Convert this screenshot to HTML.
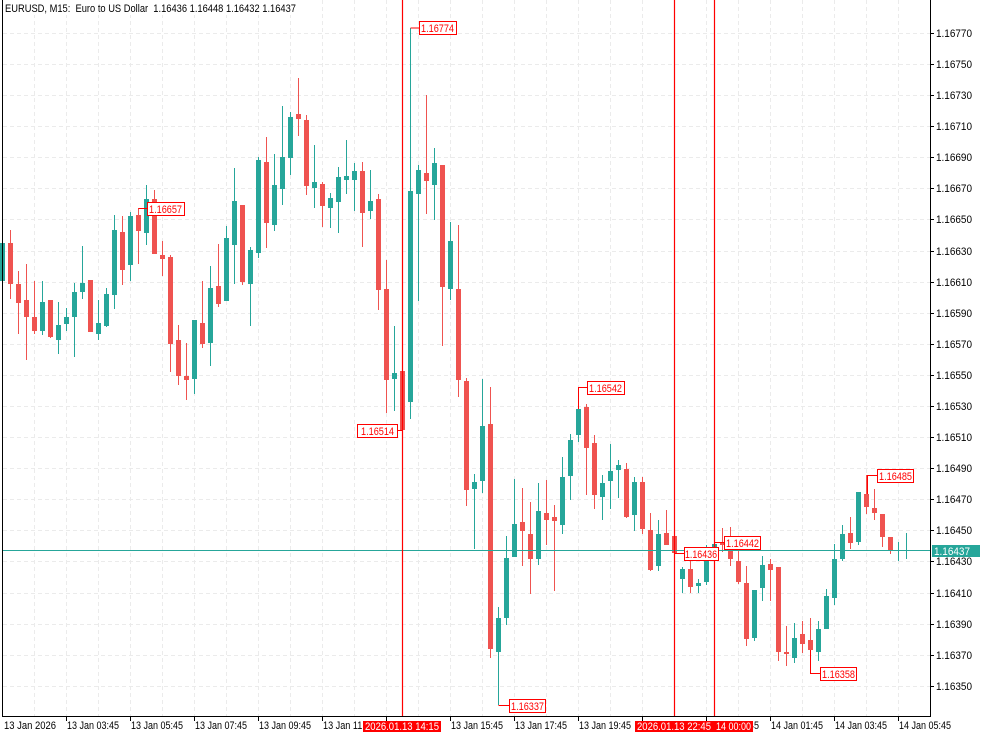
<!DOCTYPE html>
<html><head><meta charset="utf-8"><style>
html,body{margin:0;padding:0;background:#fff;}
#w{position:relative;width:983px;height:737px;overflow:hidden;font-family:"Liberation Sans","DejaVu Sans",sans-serif;font-size:11px;}
svg{position:absolute;left:0;top:0;}
svg text{font-family:"Liberation Sans","DejaVu Sans",sans-serif;font-size:11px;white-space:pre;}
</style></head><body><div id="w">
<svg id="s" width="983" height="737" xmlns="http://www.w3.org/2000/svg">
<g id="grid"></g>
<g id="candles"></g>
<line x1="2" y1="550.5" x2="930" y2="550.5" stroke="#26a69a" stroke-width="1"/>
<g stroke="#ff0000" stroke-width="1.2">
<line x1="402.5" y1="0" x2="402.5" y2="716"/>
<line x1="674.5" y1="0" x2="674.5" y2="716"/>
<line x1="714.5" y1="0" x2="714.5" y2="716"/>
</g>
<line x1="2.5" y1="0" x2="2.5" y2="716" stroke="#000"/>
<line x1="930.5" y1="0" x2="930.5" y2="717" stroke="#000"/>
<line x1="2" y1="716.5" x2="931" y2="716.5" stroke="#000"/>
<g id="ticks"></g>
<g fill="#fff" stroke="#ff0000" stroke-width="1">
<polyline points="410.5,28 419,28" fill="none"/>
<rect x="419.5" y="21.5" width="37" height="13"/>
<polyline points="138.5,208.5 147,208.5" fill="none"/>
<rect x="147.5" y="202.5" width="37" height="13"/>
<polyline points="402,430.5 397,430.5" fill="none"/>
<rect x="357.5" y="424.5" width="40" height="13"/>
<polyline points="578.5,409 578.5,387.5 587,387.5" fill="none"/>
<rect x="587.5" y="381.5" width="37" height="13"/>
<polyline points="498.5,705.5 509,705.5" fill="none"/>
<rect x="509.5" y="699.5" width="36" height="13"/>
<polyline points="674.5,553.5 684,553.5" fill="none"/>
<rect x="684.5" y="547.5" width="34" height="13"/>
<polyline points="714.5,541 714.5,542.5 724,542.5" fill="none"/>
<rect x="724.5" y="536.5" width="36" height="13"/>
<polyline points="867.5,494 867.5,475.5 877,475.5" fill="none"/>
<rect x="877.5" y="469.5" width="36" height="13"/>
<polyline points="810.5,650 810.5,673.5 820,673.5" fill="none"/>
<rect x="820.5" y="667.5" width="36" height="13"/>
</g>
<g fill="#ff0000" lengthAdjust="spacingAndGlyphs">
<text x="421" y="32" textLength="33" lengthAdjust="spacingAndGlyphs">1.16774</text>
<text x="149" y="213" textLength="33" lengthAdjust="spacingAndGlyphs">1.16657</text>
<text x="361" y="435" textLength="33" lengthAdjust="spacingAndGlyphs">1.16514</text>
<text x="589" y="392" textLength="33" lengthAdjust="spacingAndGlyphs">1.16542</text>
<text x="511" y="710" textLength="33" lengthAdjust="spacingAndGlyphs">1.16337</text>
<text x="685" y="558" textLength="32" lengthAdjust="spacingAndGlyphs">1.16436</text>
<text x="726" y="547" textLength="33" lengthAdjust="spacingAndGlyphs">1.16442</text>
<text x="879" y="480" textLength="33" lengthAdjust="spacingAndGlyphs">1.16485</text>
<text x="822" y="678" textLength="33" lengthAdjust="spacingAndGlyphs">1.16358</text>
</g>
<g fill="#000" id="ax"></g>
<rect x="932" y="545" width="48" height="12" fill="#26a69a"/>
<text x="934" y="555" fill="#fff" textLength="36" lengthAdjust="spacingAndGlyphs">1.16437</text>
<g fill="#000">
<text x="4" y="729" textLength="52" lengthAdjust="spacingAndGlyphs">13 Jan 2026</text>
<text x="67" y="729" textLength="52" lengthAdjust="spacingAndGlyphs">13 Jan 03:45</text>
<text x="131" y="729" textLength="52" lengthAdjust="spacingAndGlyphs">13 Jan 05:45</text>
<text x="195" y="729" textLength="52" lengthAdjust="spacingAndGlyphs">13 Jan 07:45</text>
<text x="259" y="729" textLength="52" lengthAdjust="spacingAndGlyphs">13 Jan 09:45</text>
<text x="323" y="729" textLength="52" lengthAdjust="spacingAndGlyphs">13 Jan 11:45</text>
<text x="451" y="729" textLength="52" lengthAdjust="spacingAndGlyphs">13 Jan 15:45</text>
<text x="515" y="729" textLength="52" lengthAdjust="spacingAndGlyphs">13 Jan 17:45</text>
<text x="579" y="729" textLength="52" lengthAdjust="spacingAndGlyphs">13 Jan 19:45</text>
<text x="707" y="729" textLength="52" lengthAdjust="spacingAndGlyphs">13 Jan 23:45</text>
<text x="771" y="729" textLength="52" lengthAdjust="spacingAndGlyphs">14 Jan 01:45</text>
<text x="835" y="729" textLength="52" lengthAdjust="spacingAndGlyphs">14 Jan 03:45</text>
<text x="899" y="729" textLength="52" lengthAdjust="spacingAndGlyphs">14 Jan 05:45</text>
</g>
<rect x="363" y="721" width="78" height="11" fill="#ff0000"/>
<text x="365" y="730" fill="#fff" textLength="74" lengthAdjust="spacingAndGlyphs">2026.01.13 14:15</text>
<rect x="635" y="721" width="118" height="11" fill="#ff0000"/>
<text x="637" y="730" fill="#fff" textLength="74" lengthAdjust="spacingAndGlyphs">2026.01.13 22:45</text>
<text x="716" y="730" fill="#fff" textLength="35" lengthAdjust="spacingAndGlyphs">14 00:00</text>
<rect x="3" y="0" width="296" height="15" fill="#fff"/>
<text x="5" y="12" fill="#000" textLength="291" lengthAdjust="spacingAndGlyphs">EURUSD, M15:  Euro to US Dollar  1.16436 1.16448 1.16432 1.16437</text>
</svg>
<script>
(function(){
var NS="http://www.w3.org/2000/svg";
function el(p,t,a){var e=document.createElementNS(NS,t);for(var k in a)e.setAttribute(k,a[k]);p.appendChild(e);return e;}
var g=document.getElementById('grid');
var ys=[33,64,95,126,157,188,219,251,282,313,344,375,406,437,468,499,530,561,593,624,655,686];
var lb=['1.16770','1.16750','1.16730','1.16710','1.16690','1.16670','1.16650','1.16630','1.16610','1.16590','1.16570','1.16550','1.16530','1.16510','1.16490','1.16470','1.16450','1.16430','1.16410','1.16390','1.16370','1.16350'];
ys.forEach(function(y){el(g,'line',{x1:3,y1:y+0.5,x2:930,y2:y+0.5,stroke:'#ebebeb','stroke-dasharray':'4,3'});});
for(var x=34;x<930;x+=32){el(g,'line',{x1:x+0.5,y1:0,x2:x+0.5,y2:716,stroke:'#ebebeb','stroke-dasharray':'4,3'});}
var t=document.getElementById('ticks');
ys.forEach(function(y){el(t,'line',{x1:930,y1:y+0.5,x2:934,y2:y+0.5,stroke:'#000'});});
var ax=document.getElementById('ax');
ys.forEach(function(y,i){var e=el(ax,'text',{x:936,y:y+4,textLength:36,lengthAdjust:'spacingAndGlyphs'});e.textContent=lb[i];});
for(var x=66;x<930;x+=64){el(t,'line',{x1:x+0.5,y1:716,x2:x+0.5,y2:721,stroke:'#000'});}
var G='#26a69a',R='#ef5350';
var d=[
[0,G,243,281,238,286],[1,R,243,284,230,299],[2,R,284,303,271,334],[3,R,300,317,264,360],[4,R,317,331,281,334],
[5,G,302,331,281,335],[6,R,300,337,300,338],[7,G,325,340,302,354],[8,G,317,324,308,331],[9,G,292,317,283,357],
[10,G,283,292,246,299],[11,R,280,332,280,332],[12,G,323,334,300,340],[13,G,294,326,288,327],[14,G,230,295,215,309],
[15,R,232,270,216,285],[16,G,216,265,212,281],[17,R,215,231,208,264],[18,G,199,233,185,245],[19,R,199,254,190,254],
[20,R,255,259,241,276],[21,R,257,344,255,372],[22,R,340,376,325,385],[23,R,376,380,343,400],[24,G,320,379,320,394],
[25,R,323,344,281,348],[26,G,288,343,266,366],[27,R,286,304,244,307],[28,G,238,301,226,301],[29,G,201,245,168,284],
[30,R,205,282,205,285],[31,G,250,284,247,326],[32,G,160,253,157,258],[33,R,162,223,137,248],[34,G,185,225,154,231],
[35,G,157,189,106,205],[36,G,117,158,112,175],[37,R,114,119,78,136],[38,R,120,186,115,195],[39,G,182,188,145,208],
[40,R,184,206,182,227],[41,G,198,208,193,228],[42,G,177,202,167,233],[43,G,176,180,140,194],[44,G,171,180,163,211],
[45,R,171,213,162,247],[46,G,201,211,170,219],[47,R,199,290,194,310],[48,R,289,380,260,413],[49,G,373,379,326,411],
[50,R,371,430,371,430],[51,G,191,402,28,419],[52,G,170,194,165,301],[53,R,173,181,95,214],[54,G,163,185,148,220],
[55,R,165,287,165,346],[56,G,241,289,222,300],[57,R,289,380,225,397],[58,R,381,490,378,506],[59,G,482,489,474,549],
[60,G,426,481,379,493],[61,R,424,649,387,658],[62,G,618,652,607,705],[63,G,558,618,536,625],[64,G,524,557,479,557],
[65,R,522,531,488,566],[66,R,534,559,502,594],[67,G,511,559,483,565],[68,R,513,520,480,545],[69,R,517,521,505,591],
[70,G,477,525,457,534],[71,G,440,476,434,500],[72,G,409,435,387,442],[73,R,407,448,404,495],[74,R,443,495,435,509],
[75,G,483,497,475,520],[76,G,471,481,444,509],[77,G,465,470,460,498],[78,R,469,517,463,518],[79,G,482,515,477,531],
[80,R,482,529,477,534],[81,R,530,570,513,571],[82,G,534,566,520,571],[83,R,533,545,510,545],[84,R,536,553,536,553],
[85,G,569,579,567,593],[86,R,569,587,552,593],[87,G,583,586,579,593],[88,G,556,582,545,585],[89,G,544,556,541,556],
[90,R,542,545,528,552],[91,R,543,559,527,566],[92,R,561,582,551,584],[93,R,583,639,566,646],[94,G,590,638,590,641],
[95,G,565,588,556,601],[96,R,564,570,559,601],[97,R,567,652,567,661],[98,R,652,654,626,666],[99,G,638,658,623,663],
[100,R,634,644,621,653],[101,R,640,650,618,673],[102,G,629,652,621,661],[103,G,596,629,589,629],[104,G,559,598,544,605],
[105,G,534,559,525,561],[106,R,533,543,517,549],[107,G,492,542,492,545],[108,R,494,507,475,514],[109,R,508,513,489,520],
[110,R,514,537,514,547],[111,R,537,551,537,554],[112,G,550,551,542,561],[113,G,550,551,533,559]];
var c=document.getElementById('candles');
d.forEach(function(a){var xc=2+8*a[0];
el(c,'rect',{x:xc,y:a[4],width:1,height:Math.max(1,a[5]-a[4]),fill:a[1]});
el(c,'rect',{x:xc-2,y:a[2],width:5,height:Math.max(1,a[3]-a[2]),fill:a[1]});});
})();
</script>
</div></body></html>
